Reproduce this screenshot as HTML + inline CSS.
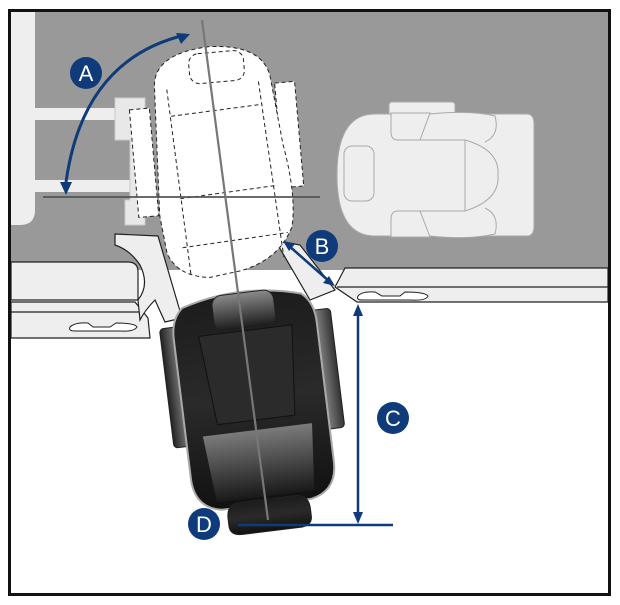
<!DOCTYPE html>
<html><head><meta charset="utf-8"><style>
html,body{margin:0;padding:0;background:#fff;}
svg{display:block;}
</style></head><body>
<svg width="620" height="605" viewBox="0 0 620 605" xmlns="http://www.w3.org/2000/svg" font-family="Liberation Sans, sans-serif">
<defs>
<linearGradient id="dk" x1="0" y1="0" x2="0" y2="1">
<stop offset="0" stop-color="#1c1c1c"/><stop offset="0.5" stop-color="#2a2a2a"/><stop offset="1" stop-color="#111"/></linearGradient>
<linearGradient id="md" x1="0" y1="0" x2="0" y2="1">
<stop offset="0" stop-color="#8a8a8a"/><stop offset="1" stop-color="#1a1a1a"/></linearGradient>
<linearGradient id="sd" x1="0" y1="0" x2="1" y2="0">
<stop offset="0" stop-color="#222"/><stop offset="0.5" stop-color="#888"/><stop offset="1" stop-color="#333"/></linearGradient>
</defs>
<rect x="0" y="0" width="620" height="605" fill="#fff"/>
<rect x="11" y="12" width="597" height="258" fill="#999"/>
<path d="M11 12 H35 V210 Q35 225 20 225 H11 Z" fill="#eee"/>
<rect x="35" y="108" width="80" height="12" fill="#eee"/>
<rect x="35" y="180" width="95" height="12" fill="#eee"/>
<path d="M115 98 H145 V225 H125 V200 H130 V140 H115 Z" fill="#e8e8e8" stroke="#ccc" stroke-width="1"/>
<path d="M11 262 H128 Q138 262 138 272 V300 H11 Z" fill="#eee" stroke="#222" stroke-width="1.2"/>
<path d="M11 302 H135 L148 318 L150 338 H11 Z" fill="#eee" stroke="#222" stroke-width="1.2"/>
<line x1="11" y1="312" x2="140" y2="312" stroke="#222" stroke-width="1.2"/>
<path d="M70 327 Q75 322 88 323 L93 327 H110 L116 323 Q135 323 137 327 Q134 332 120 331 H75 Q68 331 70 327 Z" fill="#fff" stroke="#222" stroke-width="1"/>
<path d="M115 234 L158 236 L182 318 L165 322 L155 300 Q145 310 140 320 L138 300 Q150 285 140 265 Q130 250 115 245 Z" fill="#eee" stroke="#222" stroke-width="1.2"/>
<path d="M275 240 L300 245 L335 290 L310 300 Z" fill="#eee" stroke="#222" stroke-width="1.2"/>
<path d="M345 268 H608 V302 H357 L335 287 Z" fill="#eee" stroke="#222" stroke-width="1.2"/>
<line x1="337" y1="287" x2="608" y2="287" stroke="#222" stroke-width="1.2"/>
<path d="M358 296 Q362 291 375 292 L382 296 H400 L405 292 Q425 292 428 296 Q426 301 410 300 H362 Q356 300 358 296 Z" fill="#fff" stroke="#222" stroke-width="1"/>
<g fill="#eee" stroke="#aaa" stroke-width="1">
<rect x="389" y="102" width="66" height="14" rx="3"/>
<path d="M375 114 H527 Q534 114 534 124 V226 Q534 236 527 236 H375 Q337 236 337 175 Q337 114 375 114 Z"/>
<rect x="344" y="146" width="30" height="55" rx="8"/>
<path d="M391 113 H430 L420 140 H398 Q391 140 391 132 Z"/>
<path d="M391 237 H430 L420 211 H398 Q391 211 391 219 Z"/>
<path d="M420 140 H465 Q500 150 498 175 Q500 200 465 211 H420"/>
<line x1="465" y1="140" x2="465" y2="211"/>
<path d="M430 114 Q470 110 495 116 Q500 135 485 142"/>
<path d="M430 236 Q470 240 495 234 Q500 215 485 208"/>
</g>
<g transform="rotate(-5 222 170)" fill="#fff" stroke="#222" stroke-width="1" stroke-dasharray="4 3">
<rect x="135" y="102" width="20" height="108"/>
<rect x="282" y="88" width="20" height="105"/>
<path d="M162 80 Q165 48 220 46 Q272 48 278 80 L285 150 Q294 200 287 232 Q272 264 232 272 L200 276 Q168 272 160 248 L156 210 Z"/>
<rect x="198" y="52" width="55" height="30" rx="10"/>
<path d="M174 85 L182 272 M266 85 L276 262 M176 112 L268 108 M178 195 L276 190 M176 244 L282 238"/>
</g>
<line x1="43" y1="197" x2="320" y2="197" stroke="#555" stroke-width="1.8"/>
<g transform="rotate(-7 255 410)">
<rect x="170" y="318" width="35" height="120" rx="4" fill="url(#sd)" stroke="#222"/>
<rect x="307" y="318" width="35" height="120" rx="4" fill="url(#sd)" stroke="#222"/>
<path d="M195 300 Q255 282 315 300 Q327 310 327 330 V470 Q327 500 300 505 H210 Q183 500 183 470 V330 Q183 310 195 300 Z" fill="url(#dk)" stroke="#aaa" stroke-width="2"/>
<rect x="225" y="292" width="62" height="36" rx="10" fill="url(#md)" stroke="#222"/>
<path d="M208 330 H302 L294 420 H216 Z" fill="#2b2b2b" stroke="#111"/>
<path d="M200 430 H310 L304 497 H206 Z" fill="url(#md)" opacity="0.85"/>
<path d="M228 500 H285 Q298 500 298 515 V522 Q298 532 285 532 H228 Q215 532 215 522 V515 Q215 500 228 500 Z" fill="url(#dk)" stroke="#222"/>
</g>
<line x1="202" y1="20" x2="268" y2="520" stroke="#777" stroke-width="2.2"/>
<path d="M65 190 Q80 60 185 35" fill="none" stroke="#0f3b7a" stroke-width="3"/>
<path d="M60 182 L66 195 L72 182 Z" fill="#0f3b7a"/>
<path d="M176 33 L190 34 L181 44 Z" fill="#0f3b7a"/>
<circle cx="86" cy="73" r="16" fill="#0f3b7a"/>
<text x="86" y="81" font-size="22" fill="#fff" text-anchor="middle">A</text>
<line x1="288" y1="245" x2="330" y2="282" stroke="#0f3b7a" stroke-width="2.5"/>
<path d="M283 241 L295 244 L289 251 Z" fill="#0f3b7a"/>
<path d="M335 286 L323 283 L329 276 Z" fill="#0f3b7a"/>
<circle cx="322" cy="246" r="16" fill="#0f3b7a"/>
<text x="322" y="254" font-size="22" fill="#fff" text-anchor="middle">B</text>
<line x1="358" y1="312" x2="358" y2="518" stroke="#0f3b7a" stroke-width="2.5"/>
<path d="M353 316 L358 304 L363 316 Z" fill="#0f3b7a"/>
<path d="M353 512 L358 524 L363 512 Z" fill="#0f3b7a"/>
<line x1="238" y1="525" x2="393" y2="525" stroke="#0f3b7a" stroke-width="2.5"/>
<circle cx="393" cy="418" r="16" fill="#0f3b7a"/>
<text x="393" y="426" font-size="22" fill="#fff" text-anchor="middle">C</text>
<circle cx="204" cy="524" r="16" fill="#0f3b7a"/>
<text x="204" y="532" font-size="22" fill="#fff" text-anchor="middle">D</text>
<rect x="9.5" y="10.5" width="600" height="584" fill="none" stroke="#111" stroke-width="3"/>
</svg>
</body></html>
